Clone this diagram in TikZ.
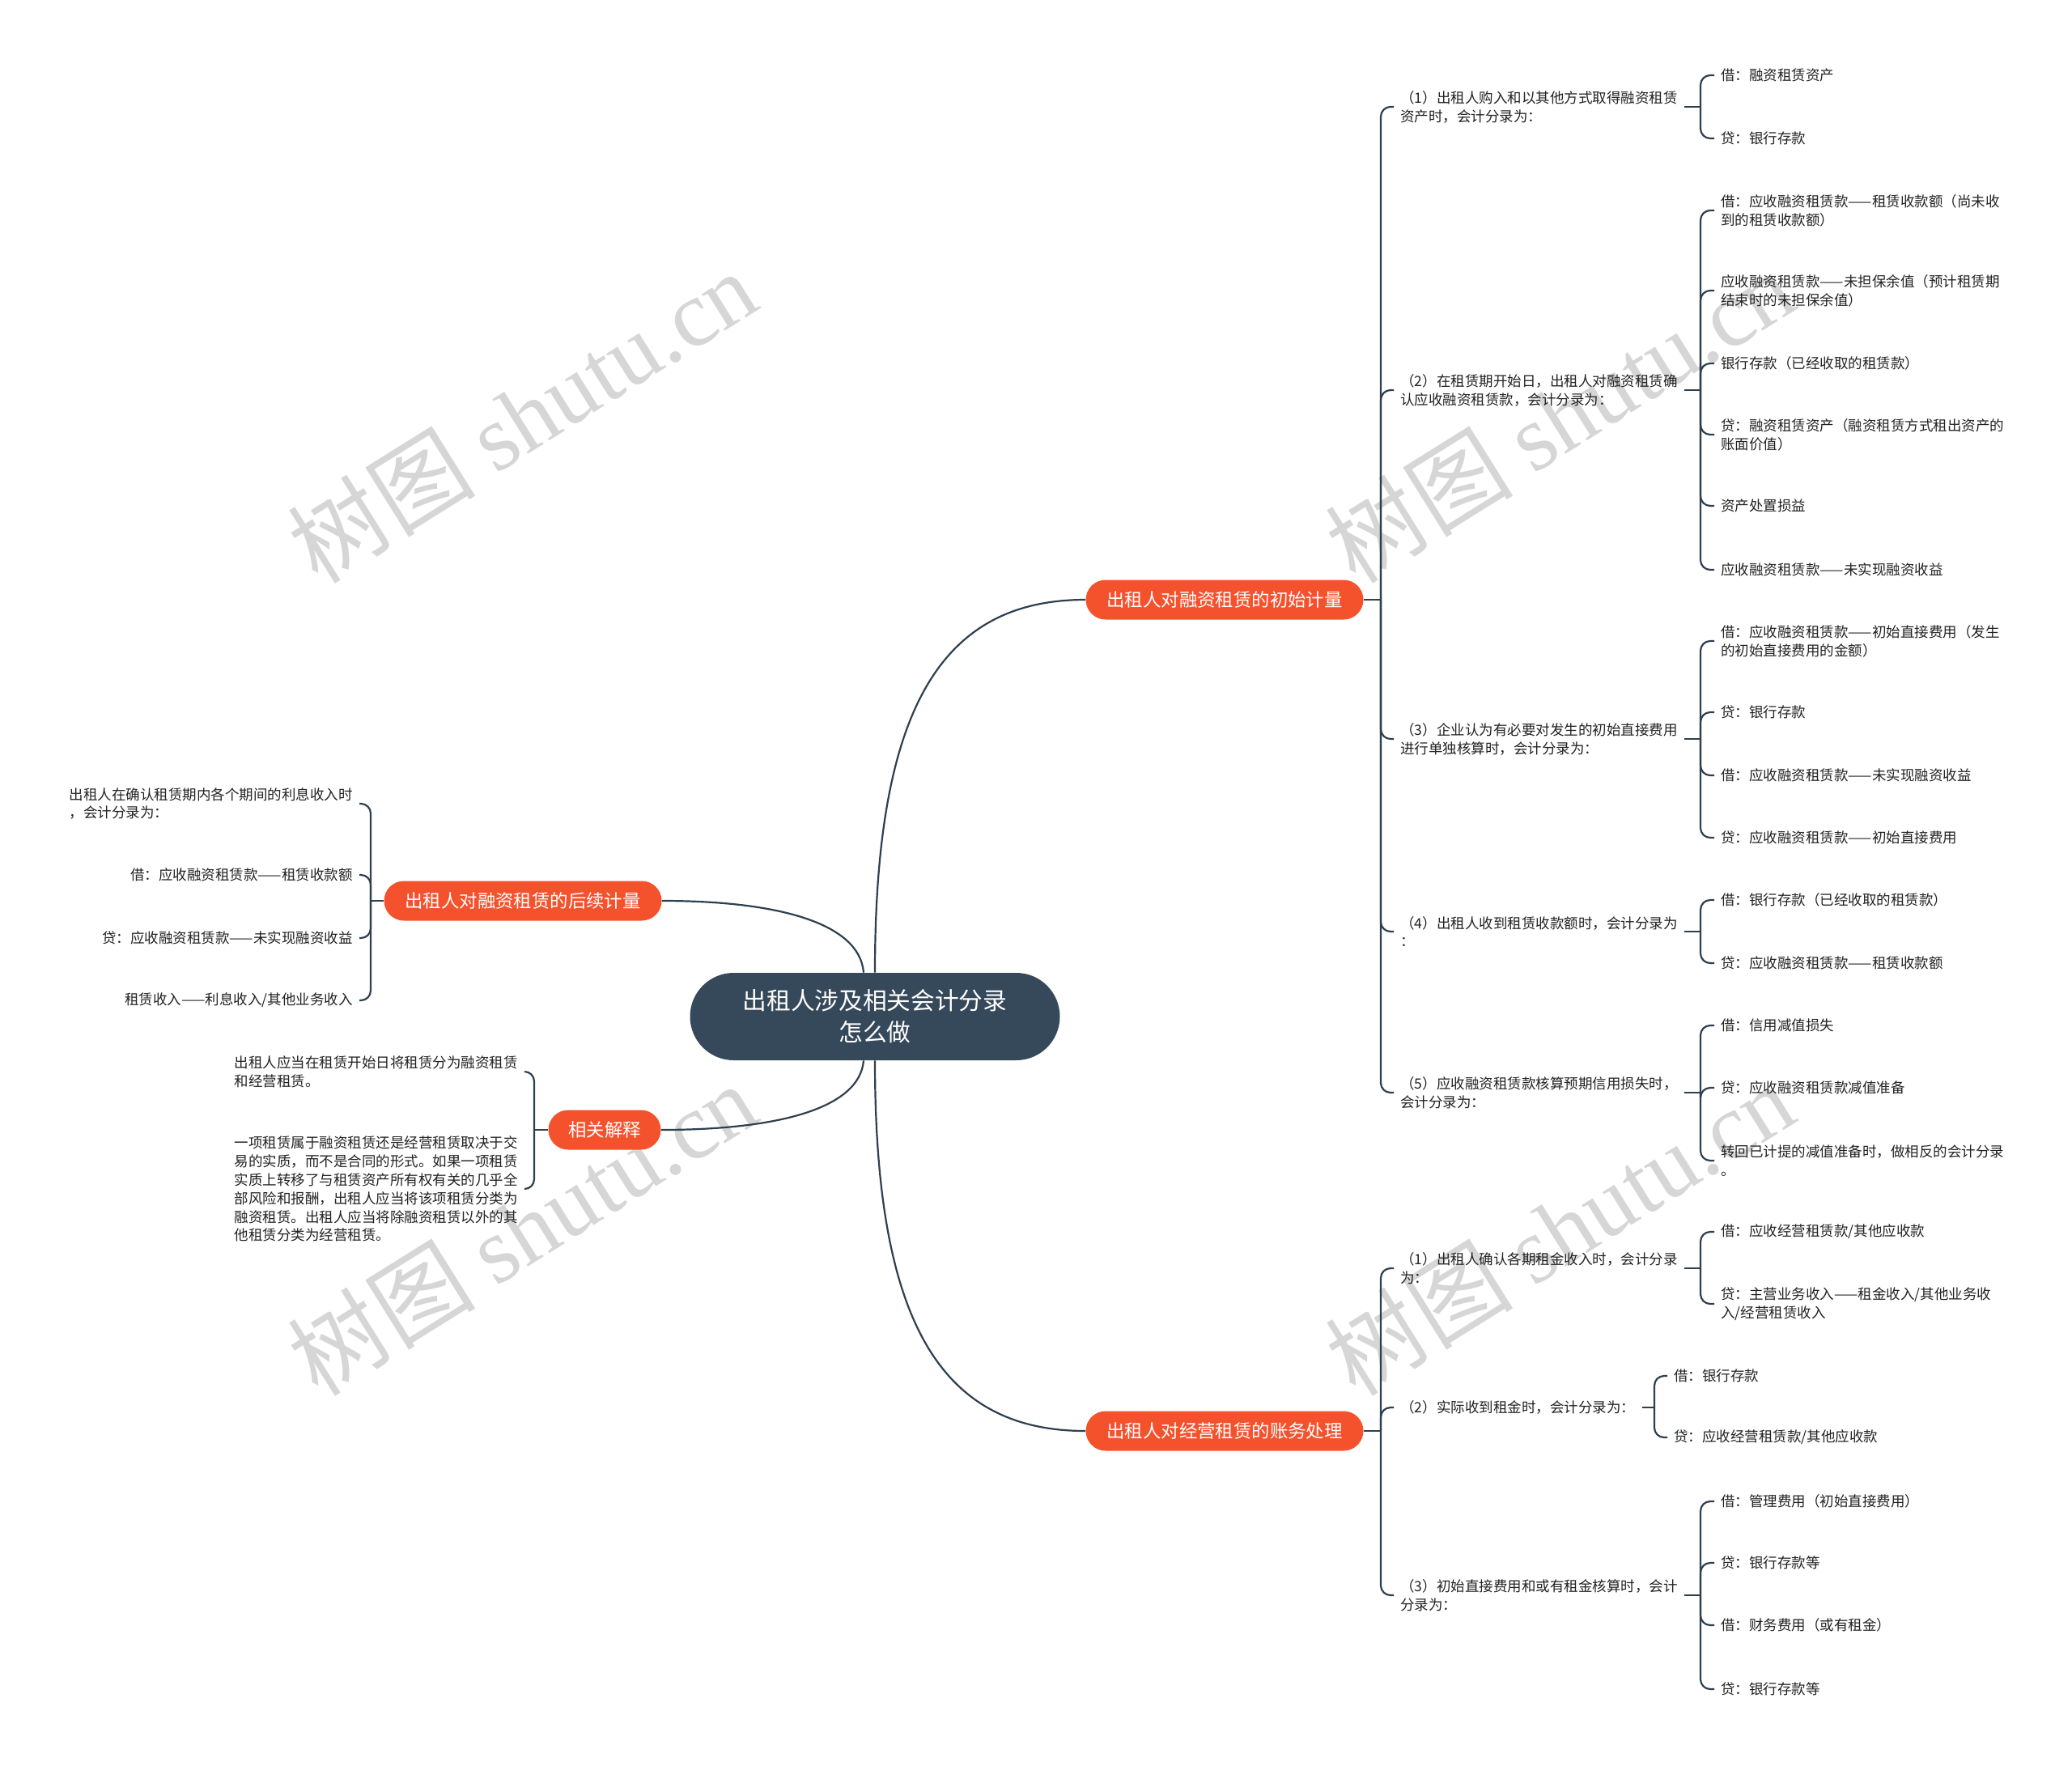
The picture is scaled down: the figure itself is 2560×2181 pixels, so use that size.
\documentclass[tikz,border=0pt]{standalone}
\usepackage{fontspec}
\setmainfont{Noto Sans CJK SC}
\newfontfamily\wmserif{Liberation Serif}
\usetikzlibrary{calc}
\definecolor{rootc}{HTML}{36495A}
\definecolor{orc}{HTML}{F4522D}
\definecolor{linec}{HTML}{2E3F4F}
\definecolor{txtc}{HTML}{222222}
\definecolor{wmc}{HTML}{D6D6D6}
\newcommand\mybraceR[2]{\draw[conn,rounded corners=6pt] (#1) |- (#2.west);}
\newcommand\mybraceL[2]{\draw[conn,rounded corners=6pt] (#1) |- (#2.east);}
\begin{document}
\begin{tikzpicture}[x=0.5pt,y=-0.5pt,
  rootbox/.style={fill=rootc,text=white,rounded corners=27pt,minimum width=228.5pt,minimum height=54pt,align=center,font=\fontsize{14.85}{19.5}\selectfont,inner sep=0pt},
  mainbox/.style={fill=orc,text=white,rounded corners=12.25pt,minimum height=24.5pt,minimum width=171.5pt,font=\fontsize{11.2}{13}\selectfont,inner sep=0pt},
  leaf/.style={font=\fontsize{8.75}{11.45}\selectfont,text=txtc,align=left,inner ysep=1pt,inner xsep=4pt},
  leafR/.style={leaf,anchor=west},
  leafL/.style={leaf,anchor=east},
  conn/.style={draw=linec,line width=1.1pt},
  wm/.style={text=wmc,rotate=32,font=\fontsize{58}{60}\selectfont}
]
\useasboundingbox (0,0) rectangle (2560,2181);
\fill[white] (0,0) rectangle (2560,2181);

% watermarks
\node[wm] (wm1) at (645,514) {树图 {\wmserif shutu.cn}};
\node[wm] (wm2) at (1927,514) {树图 {\wmserif shutu.cn}};
\node[wm] (wm3) at (645,1518) {树图 {\wmserif shutu.cn}};
\node[wm] (wm4) at (1927,1518) {树图 {\wmserif shutu.cn}};

% root and main branches
\node[rootbox] (root) at (1081,1256) {出租人涉及相关会计分录\\怎么做};
\node[mainbox] (B1) at (1513,741) {出租人对融资租赁的初始计量};
\node[mainbox] (B2) at (1513,1768) {出租人对经营租赁的账务处理};
\node[mainbox] (B3) at (646,1113) {出租人对融资租赁的后续计量};
\node[mainbox,minimum width=69.5pt] (B4) at (747,1396) {相关解释};

\coordinate (rtR) at ($(root.north)+(0,0)$);
\coordinate (rbR) at ($(root.south)+(0,0)$);
\coordinate (rtL) at ($(root.north)+(-14,0)$);
\coordinate (rbL) at ($(root.south)+(-14,0)$);
\draw[conn] (rtR) .. controls (1081,880) and (1160,741) .. (B1.west);
\draw[conn] (rbR) .. controls (1081,1630) and (1160,1768) .. (B2.west);
\draw[conn] (rtL) .. controls (1062,1140) and (960,1113) .. (B3.east);
\draw[conn] (rbL) .. controls (1062,1370) and (960,1396) .. (B4.east);

% ---------- Branch 1 ----------
\coordinate (j1) at (1706,741);
\draw[conn] (B1.east) -- (j1);
\node[leafR] (a1) at (1722,132) {（1）出租人购入和以其他方式取得融资租赁\\资产时，会计分录为：};
\node[leafR] (a2) at (1722,482) {（2）在租赁期开始日，出租人对融资租赁确\\认应收融资租赁款，会计分录为：};
\node[leafR] (a3) at (1722,913) {（3）企业认为有必要对发生的初始直接费用\\进行单独核算时，会计分录为：};
\node[leafR] (a4) at (1722,1151) {（4）出租人收到租赁收款额时，会计分录为\\：};
\node[leafR] (a5) at (1722,1350) {（5）应收融资租赁款核算预期信用损失时，\\会计分录为：};
\foreach \n in {a1,a2,a3,a4,a5} {\mybraceR{j1}{\n}}

% a1 children
\coordinate (ja1) at (2101,132);
\draw[conn] (a1.east) -- (ja1);
\node[leafR] (a1c1) at (2118,93) {借：融资租赁资产};
\node[leafR] (a1c2) at (2118,171) {贷：银行存款};
\foreach \n in {a1c1,a1c2} {\mybraceR{ja1}{\n}}

% a2 children
\coordinate (ja2) at (2101,482);
\draw[conn] (a2.east) -- (ja2);
\node[leafR] (a2c1) at (2118,260) {借：应收融资租赁款——租赁收款额（尚未收\\到的租赁收款额）};
\node[leafR] (a2c2) at (2118,359) {应收融资租赁款——未担保余值（预计租赁期\\结束时的未担保余值）};
\node[leafR] (a2c3) at (2118,449) {银行存款（已经收取的租赁款）};
\node[leafR] (a2c4) at (2118,537) {贷：融资租赁资产（融资租赁方式租出资产的\\账面价值）};
\node[leafR] (a2c5) at (2118,625) {资产处置损益};
\node[leafR] (a2c6) at (2118,704) {应收融资租赁款——未实现融资收益};
\foreach \n in {a2c1,a2c2,a2c3,a2c4,a2c5,a2c6} {\mybraceR{ja2}{\n}}

% a3 children
\coordinate (ja3) at (2101,913);
\draw[conn] (a3.east) -- (ja3);
\node[leafR] (a3c1) at (2118,792) {借：应收融资租赁款——初始直接费用（发生\\的初始直接费用的金额）};
\node[leafR] (a3c2) at (2118,880) {贷：银行存款};
\node[leafR] (a3c3) at (2118,958) {借：应收融资租赁款——未实现融资收益};
\node[leafR] (a3c4) at (2118,1035) {贷：应收融资租赁款——初始直接费用};
\foreach \n in {a3c1,a3c2,a3c3,a3c4} {\mybraceR{ja3}{\n}}

% a4 children
\coordinate (ja4) at (2101,1151);
\draw[conn] (a4.east) -- (ja4);
\node[leafR] (a4c1) at (2118,1112) {借：银行存款（已经收取的租赁款）};
\node[leafR] (a4c2) at (2118,1190) {贷：应收融资租赁款——租赁收款额};
\foreach \n in {a4c1,a4c2} {\mybraceR{ja4}{\n}}

% a5 children
\coordinate (ja5) at (2101,1350);
\draw[conn] (a5.east) -- (ja5);
\node[leafR] (a5c1) at (2118,1267) {借：信用减值损失};
\node[leafR] (a5c2) at (2118,1344) {贷：应收融资租赁款减值准备};
\node[leafR] (a5c3) at (2118,1434) {转回已计提的减值准备时，做相反的会计分录\\。};
\foreach \n in {a5c1,a5c2,a5c3} {\mybraceR{ja5}{\n}}

% ---------- Branch 2 ----------
\coordinate (j2) at (1706,1768);
\draw[conn] (B2.east) -- (j2);
\node[leafR] (b1) at (1722,1567) {（1）出租人确认各期租金收入时，会计分录\\为：};
\node[leafR] (b2) at (1722,1739) {（2）实际收到租金时，会计分录为：};
\node[leafR] (b3) at (1722,1971) {（3）初始直接费用和或有租金核算时，会计\\分录为：};
\foreach \n in {b1,b2,b3} {\mybraceR{j2}{\n}}

\coordinate (jb1) at (2101,1567);
\draw[conn] (b1.east) -- (jb1);
\node[leafR] (b1c1) at (2118,1522) {借：应收经营租赁款/其他应收款};
\node[leafR] (b1c2) at (2118,1611) {贷：主营业务收入——租金收入/其他业务收\\入/经营租赁收入};
\foreach \n in {b1c1,b1c2} {\mybraceR{jb1}{\n}}

\coordinate (jb2) at (2044,1739);
\draw[conn] (b2.east) -- (jb2);
\node[leafR] (b2c1) at (2060,1700) {借：银行存款};
\node[leafR] (b2c2) at (2060,1776) {贷：应收经营租赁款/其他应收款};
\foreach \n in {b2c1,b2c2} {\mybraceR{jb2}{\n}}

\coordinate (jb3) at (2101,1971);
\draw[conn] (b3.east) -- (jb3);
\node[leafR] (b3c1) at (2118,1855) {借：管理费用（初始直接费用）};
\node[leafR] (b3c2) at (2118,1931) {贷：银行存款等};
\node[leafR] (b3c3) at (2118,2008) {借：财务费用（或有租金）};
\node[leafR] (b3c4) at (2118,2087) {贷：银行存款等};
\foreach \n in {b3c1,b3c2,b3c3,b3c4} {\mybraceR{jb3}{\n}}

% ---------- Branch 3 (left) ----------
\coordinate (j3) at (458,1113);
\draw[conn] (B3.west) -- (j3);
\node[leafL] (c1) at (444,993) {出租人在确认租赁期内各个期间的利息收入时\\，会计分录为：};
\node[leafL,align=right] (c2) at (444,1081) {借：应收融资租赁款——租赁收款额};
\node[leafL,align=right] (c3) at (444,1159) {贷：应收融资租赁款——未实现融资收益};
\node[leafL,align=right] (c4) at (444,1236) {租赁收入——利息收入/其他业务收入};
\foreach \n in {c1,c2,c3,c4} {\mybraceL{j3}{\n}}

% ---------- Branch 4 (left) ----------
\coordinate (j4) at (660,1396);
\draw[conn] (B4.west) -- (j4);
\node[leafL] (d1) at (648,1324) {出租人应当在租赁开始日将租赁分为融资租赁\\和经营租赁。};
\node[leafL] (d2) at (648,1469) {一项租赁属于融资租赁还是经营租赁取决于交\\易的实质，而不是合同的形式。如果一项租赁\\实质上转移了与租赁资产所有权有关的几乎全\\部风险和报酬，出租人应当将该项租赁分类为\\融资租赁。出租人应当将除融资租赁以外的其\\他租赁分类为经营租赁。};
\foreach \n in {d1,d2} {\mybraceL{j4}{\n}}
\end{tikzpicture}
\end{document}
